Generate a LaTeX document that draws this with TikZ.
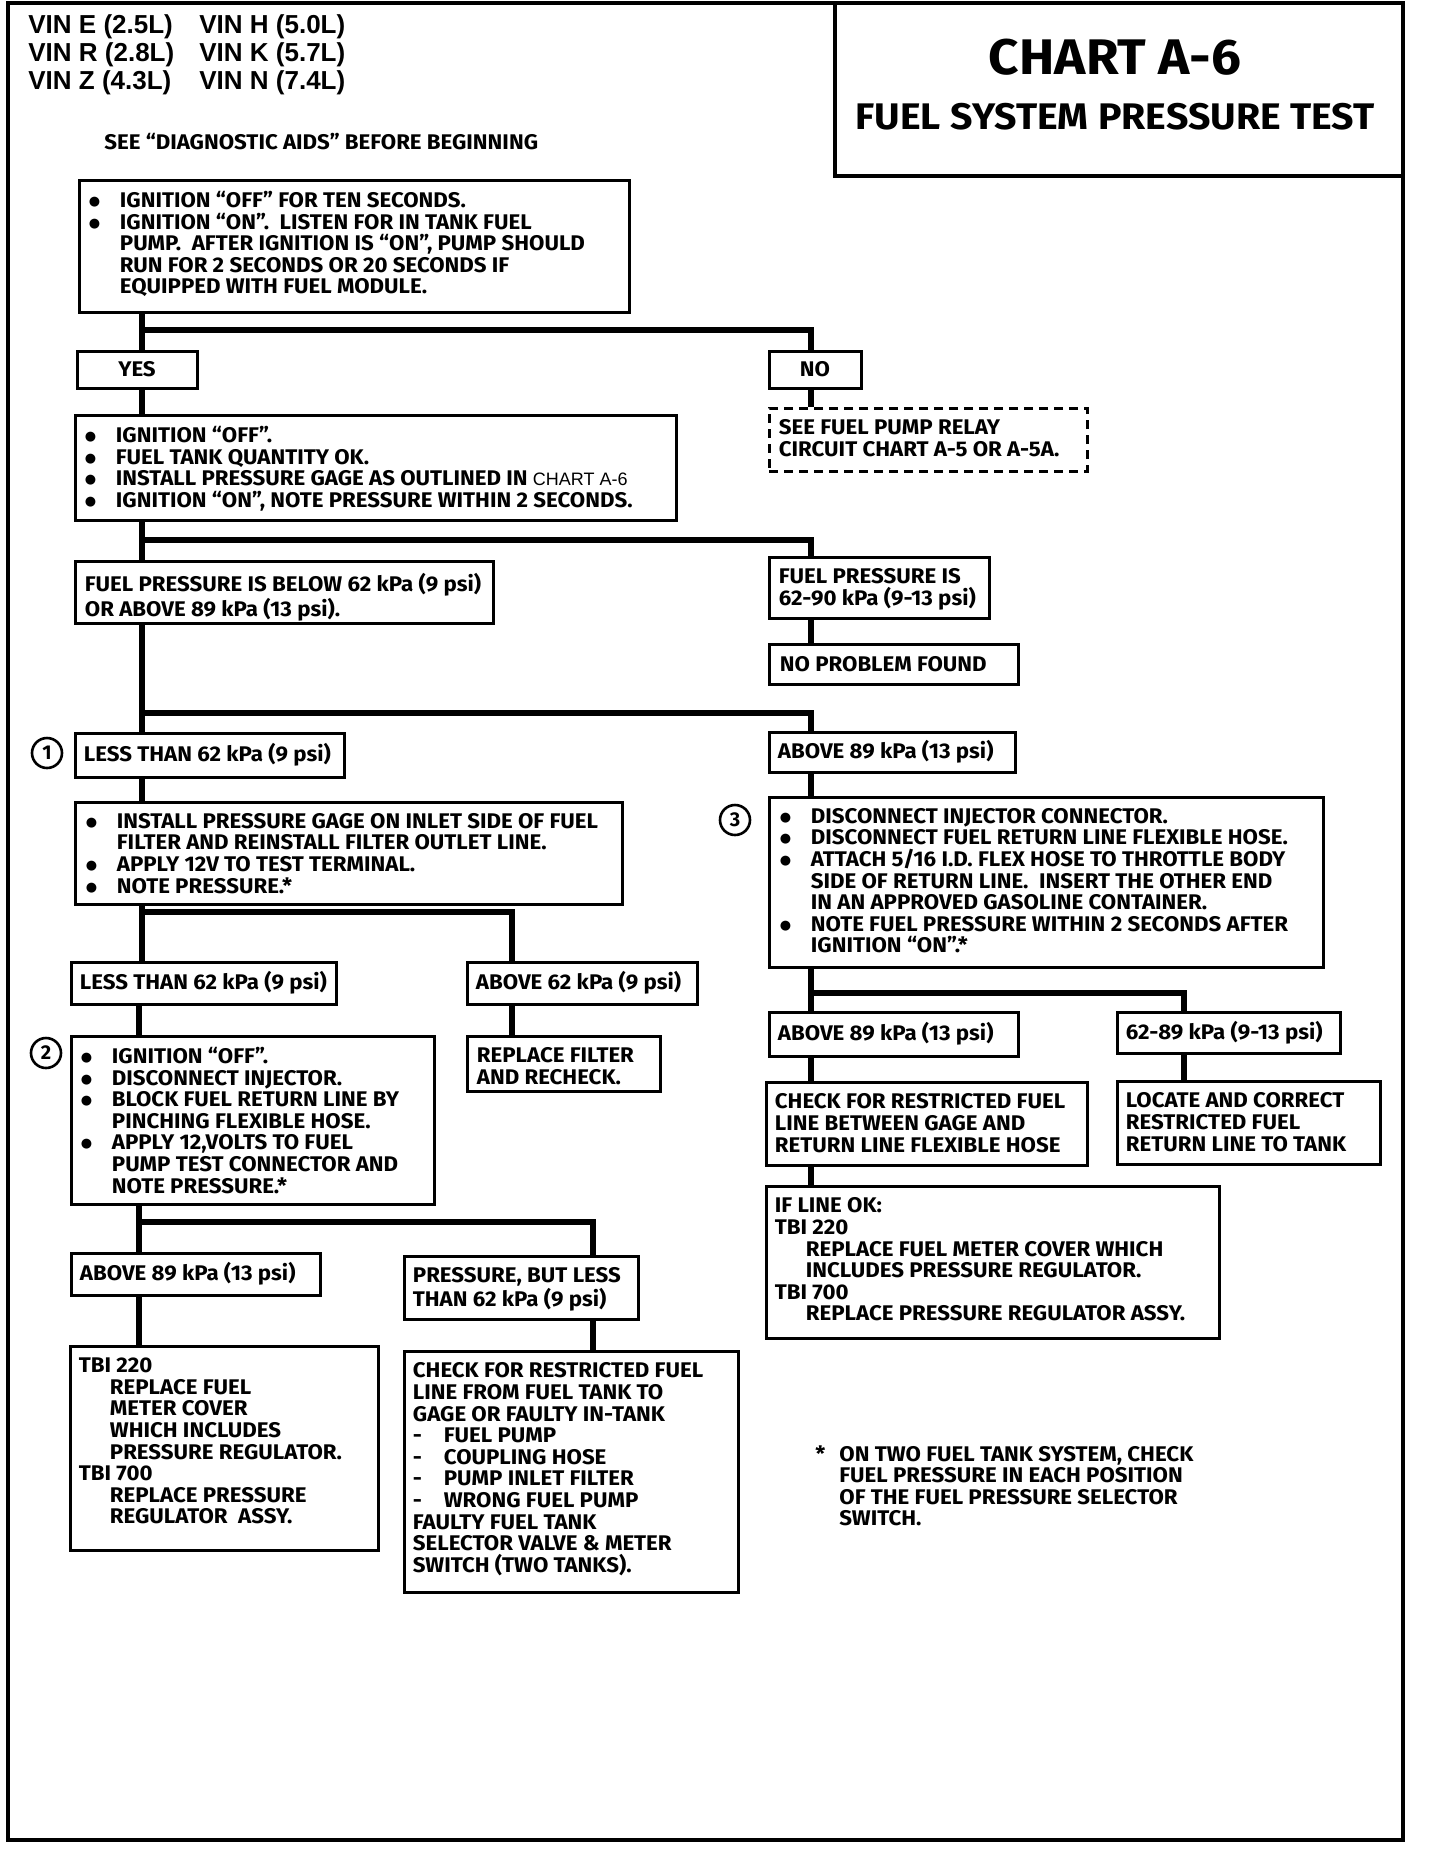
\documentclass[tikz,border=0pt]{standalone}
\usepackage{fontspec}
\setmainfont{Fira Sans}
\newfontfamily\cf{Fira Sans}[FakeStretch=1.05]
\newfontfamily\tf{Fira Sans}[FakeStretch=1.06]
\newfontfamily\arl{Liberation Sans}
\newfontfamily\dvs{DejaVu Sans}
\usetikzlibrary{fit}
\newcommand\Bu{\makebox[15.5pt][l]{\raisebox{1pt}{\dvs\fontsize{6.5}{6.5}\selectfont ●}}}
\newcommand\Ind{\hspace*{15.5pt}}
\newcommand\Dsh{\makebox[15.5pt][l]{-}}
\begin{document}
\begin{tikzpicture}[x=0.5pt,y=-0.5pt,
  bx/.style={draw,line width=1.5pt,inner sep=0pt},
  tx/.style={anchor=north west,inner sep=0pt,align=left,font=\cf\bfseries\fontsize{10.6}{10.8}\selectfont},
  tc/.style={inner sep=0pt,font=\cf\bfseries\fontsize{10.6}{10.8}\selectfont},
  ln/.style={line width=2.6pt},
  num/.style={circle,draw,line width=1.3pt,inner sep=0pt,minimum size=15pt,font=\bfseries\fontsize{10}{10}\selectfont}]
\useasboundingbox (0,0) rectangle (1440,1860);
% frame
\node[draw,line width=2pt,inner sep=0pt,fit={(8,3)(1403,1840)}] (frame) {};
\node[bx,line width=1.8pt,fit={(835,3)(1403,176)}] (title) {};
\node[font=\tf\bfseries\fontsize{25}{25}\selectfont] (t1) at (1115,57) {CHART A-6};
\node[font=\tf\bfseries\fontsize{18.5}{18.5}\selectfont] (t2) at (1115,117) {FUEL SYSTEM PRESSURE TEST};
% VIN
\node[anchor=north west,inner sep=0pt,align=left,font=\arl\bfseries\fontsize{13}{14}\selectfont] (vin) at (28,14)
 {\makebox[85.5pt][l]{VIN E (2.5L)}VIN H (5.0L)\\
  \makebox[85.5pt][l]{VIN R (2.8L)}VIN K (5.7L)\\
  \makebox[85.5pt][l]{VIN Z (4.3L)}VIN N (7.4L)};
\node[tx] (see) at (104,133) {SEE “DIAGNOSTIC AIDS” BEFORE BEGINNING};
% boxes
\node[bx,fit={(79,180)(629,312)}] (b1) {};
\node[bx,fit={(77,351)(197,388)}] (yes) {};
\node[bx,fit={(769,351)(861,388)}] (no) {};
\node[bx,dash pattern=on 4.5pt off 3pt,fit={(769,408)(1087,471)}] (relay) {};
\node[bx,fit={(75,415)(676,520)}] (b2) {};
\node[bx,fit={(75,561)(493,623)}] (below) {};
\node[bx,fit={(769,557)(989,618)}] (within) {};
\node[bx,fit={(769,644)(1018,684)}] (npf) {};
\node[bx,fit={(75,733)(344,777)}] (less1) {};
\node[bx,fit={(769,732)(1015,772)}] (ab89a) {};
\node[bx,fit={(75,802)(622,904)}] (inst) {};
\node[bx,fit={(769,797)(1323,967)}] (b3) {};
\node[bx,fit={(71,962)(336,1004)}] (less2) {};
\node[bx,fit={(467,962)(697,1004)}] (ab62) {};
\node[bx,fit={(769,1012)(1018,1056)}] (ab89b) {};
\node[bx,fit={(1117,1012)(1340,1053)}] (r6289) {};
\node[bx,fit={(71,1036)(434,1204)}] (b4) {};
\node[bx,fit={(467,1036)(660,1091)}] (repl) {};
\node[bx,fit={(766,1082)(1087,1165)}] (chk1) {};
\node[bx,fit={(1117,1081)(1380,1164)}] (loc) {};
\node[bx,fit={(766,1186)(1219,1338)}] (ifok) {};
\node[bx,fit={(71,1253)(320,1295)}] (ab89c) {};
\node[bx,fit={(404,1256)(638,1319)}] (pbl) {};
\node[bx,fit={(70,1346)(378,1550)}] (tbi) {};
\node[bx,fit={(404,1351)(738,1592)}] (chk2) {};
% texts
\node[tx] (b1t) at ([shift={(5.5pt,-6.2pt)}]b1.north west)
 {\Bu IGNITION “OFF” FOR TEN SECONDS.\\
  \Bu IGNITION “ON”.\ \ LISTEN FOR IN TANK FUEL\\
  \Ind PUMP.\ \ AFTER IGNITION IS “ON”, PUMP SHOULD\\
  \Ind RUN FOR 2 SECONDS OR 20 SECONDS IF\\
  \Ind EQUIPPED WITH FUEL MODULE.};
\node[tc] (yest) at (yes) {YES};
\node[tc] (not) at (no) {NO};
\node[tx] (relayt) at ([shift={(5.5pt,-6.5pt)}]relay.north west)
 {SEE FUEL PUMP RELAY\\CIRCUIT CHART A-5 OR A-5A.};
\node[tx] (b2t) at ([shift={(5.5pt,-6.2pt)}]b2.north west)
 {\Bu IGNITION “OFF”.\\
  \Bu FUEL TANK QUANTITY OK.\\
  \Bu INSTALL PRESSURE GAGE AS OUTLINED IN {\mdseries\arl\fontsize{9}{10}\selectfont CHART A-6}\\
  \Bu IGNITION “ON”, NOTE PRESSURE WITHIN 2 SECONDS.};
\node[tx] (belowt) at ([shift={(5.5pt,-6.5pt)}]below.north west)
 {FUEL PRESSURE IS BELOW 62 kPa (9 psi)\\OR ABOVE 89 kPa (13 psi).};
\node[tx] (withint) at ([shift={(5.5pt,-6.5pt)}]within.north west)
 {FUEL PRESSURE IS\\62-90 kPa (9-13 psi)};
\node[tc,anchor=west] (npft) at ([xshift=6pt]npf.west) {NO PROBLEM FOUND};
\node[tc,anchor=west] (less1t) at ([xshift=5pt]less1.west) {LESS THAN 62 kPa (9 psi)};
\node[tc,anchor=west] (ab89at) at ([xshift=5pt]ab89a.west) {ABOVE 89 kPa (13 psi)};
\node[tx] (instt) at ([shift={(6pt,-6.2pt)}]inst.north west)
 {\Bu INSTALL PRESSURE GAGE ON INLET SIDE OF FUEL\\
  \Ind FILTER AND REINSTALL FILTER OUTLET LINE.\\
  \Bu APPLY 12V TO TEST TERMINAL.\\
  \Bu NOTE PRESSURE.*};
\node[tx] (b3t) at ([shift={(6pt,-6.2pt)}]b3.north west)
 {\Bu DISCONNECT INJECTOR CONNECTOR.\\
  \Bu DISCONNECT FUEL RETURN LINE FLEXIBLE HOSE.\\
  \Bu ATTACH 5/16 I.D. FLEX HOSE TO THROTTLE BODY\\
  \Ind SIDE OF RETURN LINE.\ \ INSERT THE OTHER END\\
  \Ind IN AN APPROVED GASOLINE CONTAINER.\\
  \Bu NOTE FUEL PRESSURE WITHIN 2 SECONDS AFTER\\
  \Ind IGNITION “ON”.*};
\node[tc,anchor=west] (less2t) at ([xshift=5pt]less2.west) {LESS THAN 62 kPa (9 psi)};
\node[tc,anchor=west] (ab62t) at ([xshift=5pt]ab62.west) {ABOVE 62 kPa (9 psi)};
\node[tc,anchor=west] (ab89bt) at ([xshift=5pt]ab89b.west) {ABOVE 89 kPa (13 psi)};
\node[tc,anchor=west] (r6289t) at ([xshift=5pt]r6289.west) {62-89 kPa (9-13 psi)};
\node[tx] (b4t) at ([shift={(5.5pt,-6.2pt)}]b4.north west)
 {\Bu IGNITION “OFF”.\\
  \Bu DISCONNECT INJECTOR.\\
  \Bu BLOCK FUEL RETURN LINE BY\\
  \Ind PINCHING FLEXIBLE HOSE.\\
  \Bu APPLY 12,VOLTS TO FUEL\\
  \Ind PUMP TEST CONNECTOR AND\\
  \Ind NOTE PRESSURE.*};
\node[tx] (replt) at ([shift={(5.5pt,-6.5pt)}]repl.north west)
 {REPLACE FILTER\\AND RECHECK.};
\node[tx] (chk1t) at ([shift={(5pt,-6.5pt)}]chk1.north west)
 {CHECK FOR RESTRICTED FUEL\\LINE BETWEEN GAGE AND\\RETURN LINE FLEXIBLE HOSE};
\node[tx] (loct) at ([shift={(5pt,-6.5pt)}]loc.north west)
 {LOCATE AND CORRECT\\RESTRICTED FUEL\\RETURN LINE TO TANK};
\node[tx] (ifokt) at ([shift={(5pt,-6.5pt)}]ifok.north west)
 {IF LINE OK:\\
  TBI 220\\
  \Ind REPLACE FUEL METER COVER WHICH\\
  \Ind INCLUDES PRESSURE REGULATOR.\\
  TBI 700\\
  \Ind REPLACE PRESSURE REGULATOR ASSY.};
\node[tc,anchor=west] (ab89ct) at ([xshift=5pt]ab89c.west) {ABOVE 89 kPa (13 psi)};
\node[tx] (pblt) at ([shift={(5pt,-6.5pt)}]pbl.north west)
 {PRESSURE, BUT LESS\\THAN 62 kPa (9 psi)};
\node[tx] (tbit) at ([shift={(5pt,-6.5pt)}]tbi.north west)
 {TBI 220\\
  \Ind REPLACE FUEL\\
  \Ind METER COVER\\
  \Ind WHICH INCLUDES\\
  \Ind PRESSURE REGULATOR.\\
  TBI 700\\
  \Ind REPLACE PRESSURE\\
  \Ind REGULATOR\ \ ASSY.};
\node[tx] (chk2t) at ([shift={(5pt,-6.5pt)}]chk2.north west)
 {CHECK FOR RESTRICTED FUEL\\
  LINE FROM FUEL TANK TO\\
  GAGE OR FAULTY IN-TANK\\
  \Dsh FUEL PUMP\\
  \Dsh COUPLING HOSE\\
  \Dsh PUMP INLET FILTER\\
  \Dsh WRONG FUEL PUMP\\
  FAULTY FUEL TANK\\
  SELECTOR VALVE \& METER\\
  SWITCH (TWO TANKS).};
\node[tx] (fn) at (815,1445)
 {\makebox[12pt][l]{*}ON TWO FUEL TANK SYSTEM, CHECK\\
  \hspace*{12pt}FUEL PRESSURE IN EACH POSITION\\
  \hspace*{12pt}OF THE FUEL PRESSURE SELECTOR\\
  \hspace*{12pt}SWITCH.};
% circled numbers
\node[num] (c1) at (47,753) {1};
\node[num] (c2) at (46,1053) {2};
\node[num] (c3) at (735,820) {3};
% trunk coordinates
\coordinate (L) at (142,0);
\coordinate (L2) at (139,0);
\coordinate (R) at (811,0);
\coordinate (M1) at (512,0);
\coordinate (M2) at (593,0);
\coordinate (R2) at (1184,0);
\coordinate (j1) at (142,330);
\coordinate (j2) at (142,540);
\coordinate (j3) at (142,713);
\coordinate (j4) at (142,912);
\coordinate (j5) at (139,1222);
\coordinate (j6) at (811,993);
% connectors
\draw[ln] (b1.south -| L) -- (yes.north -| L);
\draw[ln] (j1) -| (no.north -| R);
\draw[ln] (no.south -| R) -- (relay.north -| R);
\draw[ln] (yes.south -| L) -- (b2.north -| L);
\draw[ln] (b2.south -| L) -- (below.north -| L);
\draw[ln] (j2) -| (within.north -| R);
\draw[ln] (within.south -| R) -- (npf.north -| R);
\draw[ln] (below.south -| L) -- (less1.north -| L);
\draw[ln] (j3) -| (ab89a.north -| R);
\draw[ln] (less1.south -| L) -- (inst.north -| L);
\draw[ln] (ab89a.south -| R) -- (b3.north -| R);
\draw[ln] (inst.south -| L) -- (less2.north -| L);
\draw[ln] (j4) -| (ab62.north -| M1);
\draw[ln] (ab62.south -| M1) -- (repl.north -| M1);
\draw[ln] (less2.south -| L2) -- (b4.north -| L2);
\draw[ln] (b4.south -| L2) -- (ab89c.north -| L2);
\draw[ln] (j5) -| (pbl.north -| M2);
\draw[ln] (ab89c.south -| L2) -- (tbi.north -| L2);
\draw[ln] (pbl.south -| M2) -- (chk2.north -| M2);
\draw[ln] (b3.south -| R) -- (ab89b.north -| R);
\draw[ln] (j6) -| (r6289.north -| R2);
\draw[ln] (ab89b.south -| R) -- (chk1.north -| R);
\draw[ln] (r6289.south -| R2) -- (loc.north -| R2);
\draw[ln] (chk1.south -| R) -- (ifok.north -| R);
\end{tikzpicture}
\end{document}
